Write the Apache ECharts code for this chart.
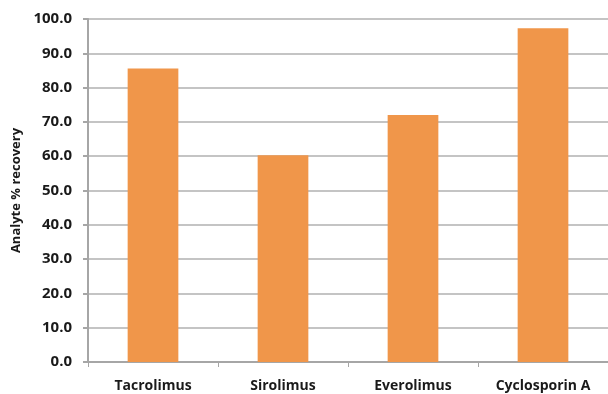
<!DOCTYPE html>
<html>
<head>
<meta charset="utf-8">
<script src="https://cdn.jsdelivr.net/npm/echarts@6/dist/echarts.min.js"></script>
<style>html,body{margin:0;padding:0;background:#fff}#c{width:608px;height:394px}</style>
</head>
<body>
<div id="c"></div>
<script>
var categories = ['Tacrolimus', 'Sirolimus', 'Everolimus', 'Cyclosporin A'];
var recovery = [85.6, 60.3, 72.0, 97.3];
var yTicks = [0, 10, 20, 30, 40, 50, 60, 70, 80, 90, 100];

var chart = echarts.init(document.getElementById('c'));
chart.setOption({
  animation: false,
  grid: {left: 88, right: 0, top: 19, bottom: 32},
  xAxis: {
    type: 'category',
    data: categories,
    axisLine: {lineStyle: {color: '#a6a6a6', width: 2}},
    axisTick: {show: true, alignWithLabel: false, length: 5, lineStyle: {color: '#a6a6a6', width: 1}},
    axisLabel: {color: '#1a1a1a', fontWeight: 'bold', fontSize: 14, fontFamily: 'Open Sans', margin: 17}
  },
  yAxis: {
    type: 'value',
    min: yTicks[0],
    max: yTicks[yTicks.length - 1],
    interval: 10,
    name: 'Analyte % recovery',
    nameLocation: 'middle',
    nameGap: 64,
    nameTextStyle: {color: '#1a1a1a', fontWeight: 'bold', fontSize: 13, fontFamily: 'Open Sans'},
    axisLine: {show: true, lineStyle: {color: '#a6a6a6', width: 2}},
    axisTick: {show: true, length: 5, lineStyle: {color: '#a6a6a6', width: 2}},
    axisLabel: {color: '#1a1a1a', fontWeight: 'bold', fontSize: 15, fontFamily: 'Open Sans', margin: 16,
      formatter: function (v) { return v.toFixed(1); }},
    splitLine: {lineStyle: {color: '#c4c4c4', width: 2}}
  },
  series: [{
    type: 'bar',
    data: recovery,
    barWidth: '39%',
    itemStyle: {color: '#f0964a'}
  }]
});
</script>
</body>
</html>
